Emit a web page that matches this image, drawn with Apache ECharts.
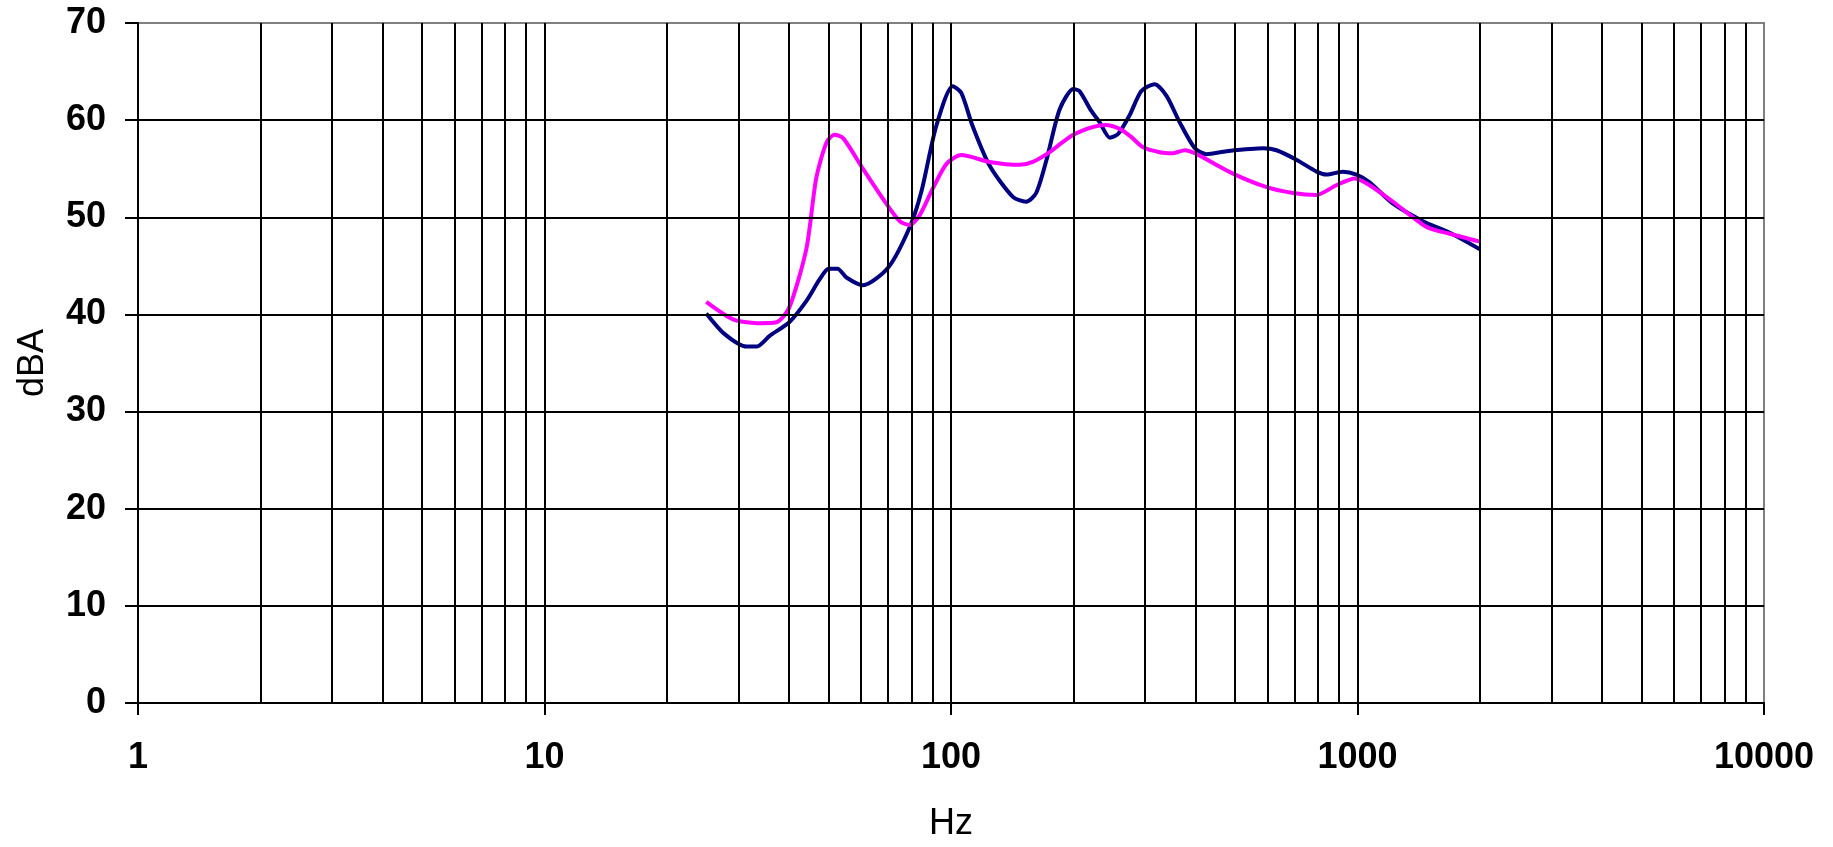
<!DOCTYPE html>
<html>
<head>
<meta charset="utf-8">
<script src="https://cdn.jsdelivr.net/npm/echarts@6/dist/echarts.min.js"></script>
<style>
html,body{margin:0;padding:0;background:#fff;}
#c{width:1833px;height:847px;}
</style>
</head>
<body>
<div id="c"></div>
<script>
// ---- data ----
const navyFreq = [25, 27.7, 31.4, 33.3, 35.8, 40, 44.1, 47.5, 50, 52.6, 55.3, 60.7, 70, 79, 84.5, 92, 101, 106, 113, 124.5, 142, 153, 162, 172, 185, 200, 207, 221, 232, 246, 258, 275, 294, 317, 339, 365, 398, 425, 476, 586, 632, 709, 793, 839, 921, 994, 1071, 1223, 1449, 1686, 2000];
const navyVals = [40.1, 38.0, 36.7, 36.7, 37.8, 39.2, 41.4, 43.6, 44.7, 44.7, 43.8, 43.0, 44.8, 48.9, 52.6, 59.4, 63.5, 62.8, 59.4, 55.3, 52.1, 51.6, 52.5, 56.0, 61.1, 63.2, 63.0, 61.0, 59.8, 58.2, 58.6, 60.5, 63.0, 63.7, 62.5, 59.8, 57.1, 56.5, 56.8, 57.1, 56.9, 55.9, 54.7, 54.4, 54.7, 54.4, 53.6, 51.4, 49.6, 48.4, 46.7];
const magFreq = [25, 29.1, 33.3, 37.2, 40, 44.1, 46.6, 49.4, 51.7, 54.4, 60.7, 69.3, 74.8, 79, 83.7, 90.3, 97.5, 106, 124.5, 147.6, 159, 175, 185, 200, 224, 240, 260, 277, 297, 326, 352, 376, 402, 494, 598, 694, 793, 887, 985, 1071, 1223, 1479, 1686, 2000];
const magVals = [41.3, 39.5, 39.1, 39.2, 40.7, 46.8, 54.0, 57.7, 58.5, 58.1, 55.0, 51.4, 49.6, 49.2, 50.2, 53.0, 55.5, 56.4, 55.7, 55.4, 55.7, 56.7, 57.5, 58.5, 59.3, 59.5, 59.1, 58.3, 57.2, 56.7, 56.6, 56.9, 56.5, 54.5, 53.1, 52.5, 52.3, 53.3, 54.0, 53.3, 51.6, 49.0, 48.3, 47.5];
const xGridValues = [2,3,4,5,6,7,8,9,10,20,30,40,50,60,70,80,90,100,200,300,400,500,600,700,800,900,1000,2000,3000,4000,5000,6000,7000,8000,9000];
const yGridValues = [10,20,30,40,50,60];
const xTickLabels = ['1','10','100','1000','10000'];
const yTickLabels = ['0','10','20','30','40','50','60','70'];
const xName = 'Hz';
const yName = 'dBA';

const pairs = (f, v) => f.map((x, i) => [x, v[i]]);
const font = "'Liberation Sans', Arial, sans-serif";
const gridLine = { color: '#000', width: 2, type: 'solid' };

const chart = echarts.init(document.getElementById('c'), null, { renderer: 'canvas' });
chart.setOption({
  animation: false,
  backgroundColor: '#fff',
  grid: { left: 138, right: 69, top: 23, bottom: 139, show: true, borderColor: '#808080', borderWidth: 2, backgroundColor: 'transparent' },
  xAxis: {
    type: 'log', logBase: 10, min: 1, max: 10000,
    name: xName, nameLocation: 'middle', nameGap: 103,
    nameTextStyle: { fontFamily: font, fontSize: 36, color: '#000' },
    axisLine: { lineStyle: { color: '#000', width: 2 } },
    axisTick: { show: true, length: 12, lineStyle: { color: '#000', width: 2 } },
    axisLabel: { fontFamily: font, fontSize: 36, fontWeight: 'bold', color: '#000', margin: 37,
      formatter: v => { const i = Math.round(Math.log10(v)); return xTickLabels[i] !== undefined ? xTickLabels[i] : ''; } },
    splitLine: { show: false }, minorTick: { show: false }, minorSplitLine: { show: false }
  },
  yAxis: {
    type: 'value', min: 0, max: 70, interval: 10,
    name: yName, nameLocation: 'middle', nameGap: 87, nameRotate: 90,
    nameTextStyle: { fontFamily: font, fontSize: 36, color: '#000' },
    axisLine: { show: true, lineStyle: { color: '#000', width: 2 } },
    axisTick: { show: true, length: 13, lineStyle: { color: '#000', width: 2 } },
    axisLabel: { fontFamily: font, fontSize: 36, fontWeight: 'bold', color: '#000', margin: 32,
      formatter: v => yTickLabels[Math.round(v / 10)] },
    splitLine: { show: false }
  },
  series: [
    {
      type: 'line', data: [], z: 1, silent: true,
      markLine: {
        silent: true, symbol: ['none', 'none'], animation: false,
        label: { show: false }, lineStyle: gridLine,
        emphasis: { disabled: true },
        data: xGridValues.map(v => ({ xAxis: v })).concat(yGridValues.map(v => ({ yAxis: v })))
      }
    },
    {
      type: 'line', name: 'A', data: pairs(navyFreq, navyVals), z: 3,
      showSymbol: false, smooth: 0.25,
      lineStyle: { color: '#000080', width: 4 }, itemStyle: { color: '#000080' }
    },
    {
      type: 'line', name: 'B', data: pairs(magFreq, magVals), z: 4,
      showSymbol: false, smooth: 0.25,
      lineStyle: { color: '#FF00FF', width: 4 }, itemStyle: { color: '#FF00FF' }
    }
  ]
});
</script>
</body>
</html>
